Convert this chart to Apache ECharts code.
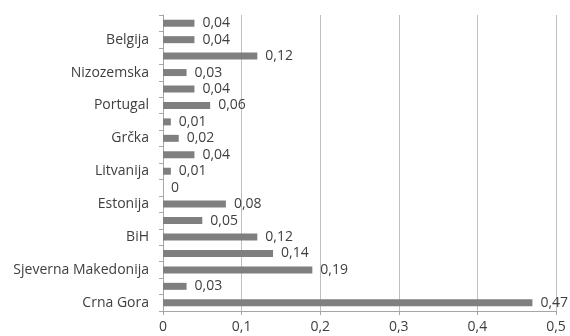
<!DOCTYPE html>
<html><head><meta charset="utf-8">
<script src="https://cdn.jsdelivr.net/npm/echarts@6/dist/echarts.min.js"></script>
<style>html,body{margin:0;padding:0;background:#fff}#c{width:570px;height:336px}</style>
</head><body><div id="c"></div>
<script>
// bottom to top
const categories = ['Crna Gora', '', 'Sjeverna Makedonija', '', 'BiH', '', 'Estonija', '', 'Litvanija', '', 'Grčka', '', 'Portugal', '', 'Nizozemska', '', 'Belgija', ''];
const values = [0.47, 0.03, 0.19, 0.14, 0.12, 0.05, 0.08, 0, 0.01, 0.04, 0.02, 0.01, 0.06, 0.04, 0.03, 0.12, 0.04, 0.04];
const xTicks = [0, 0.1, 0.2, 0.3, 0.4, 0.5];

const font = 'Open Sans';
const chart = echarts.init(document.getElementById('c'));
chart.setOption({
  animation: false,
  grid: {left: 163, right: 14, top: 15, bottom: 25, containLabel: false},
  xAxis: {
    type: 'value', min: xTicks[0], max: xTicks[xTicks.length - 1], interval: 0.1,
    axisLine: {show: true, lineStyle: {color: '#a6a6a6'}},
    axisTick: {show: true, length: 4, lineStyle: {color: '#a6a6a6'}},
    splitLine: {show: true, lineStyle: {color: '#bfbfbf'}},
    axisLabel: {color: '#404040', fontFamily: font, fontSize: 14, margin: 9,
      formatter: v => String(Math.round(v * 10) / 10).replace('.', ',')}
  },
  yAxis: {
    type: 'category', data: categories,
    axisLine: {show: true, lineStyle: {color: '#a6a6a6'}},
    axisTick: {show: true, length: 4, interval: 0, lineStyle: {color: '#a6a6a6'}},
    axisLabel: {interval: 0, color: '#404040', fontFamily: font, fontSize: 14, margin: 14},
    splitLine: {show: false}
  },
  series: [{
    type: 'bar', data: values, barWidth: 7,
    itemStyle: {color: '#7f7f7f'},
    label: {show: true, position: 'right', distance: 8, color: '#404040', fontFamily: font, fontSize: 14,
      formatter: p => String(p.value).replace('.', ',')}
  }]
});
</script></body></html>
